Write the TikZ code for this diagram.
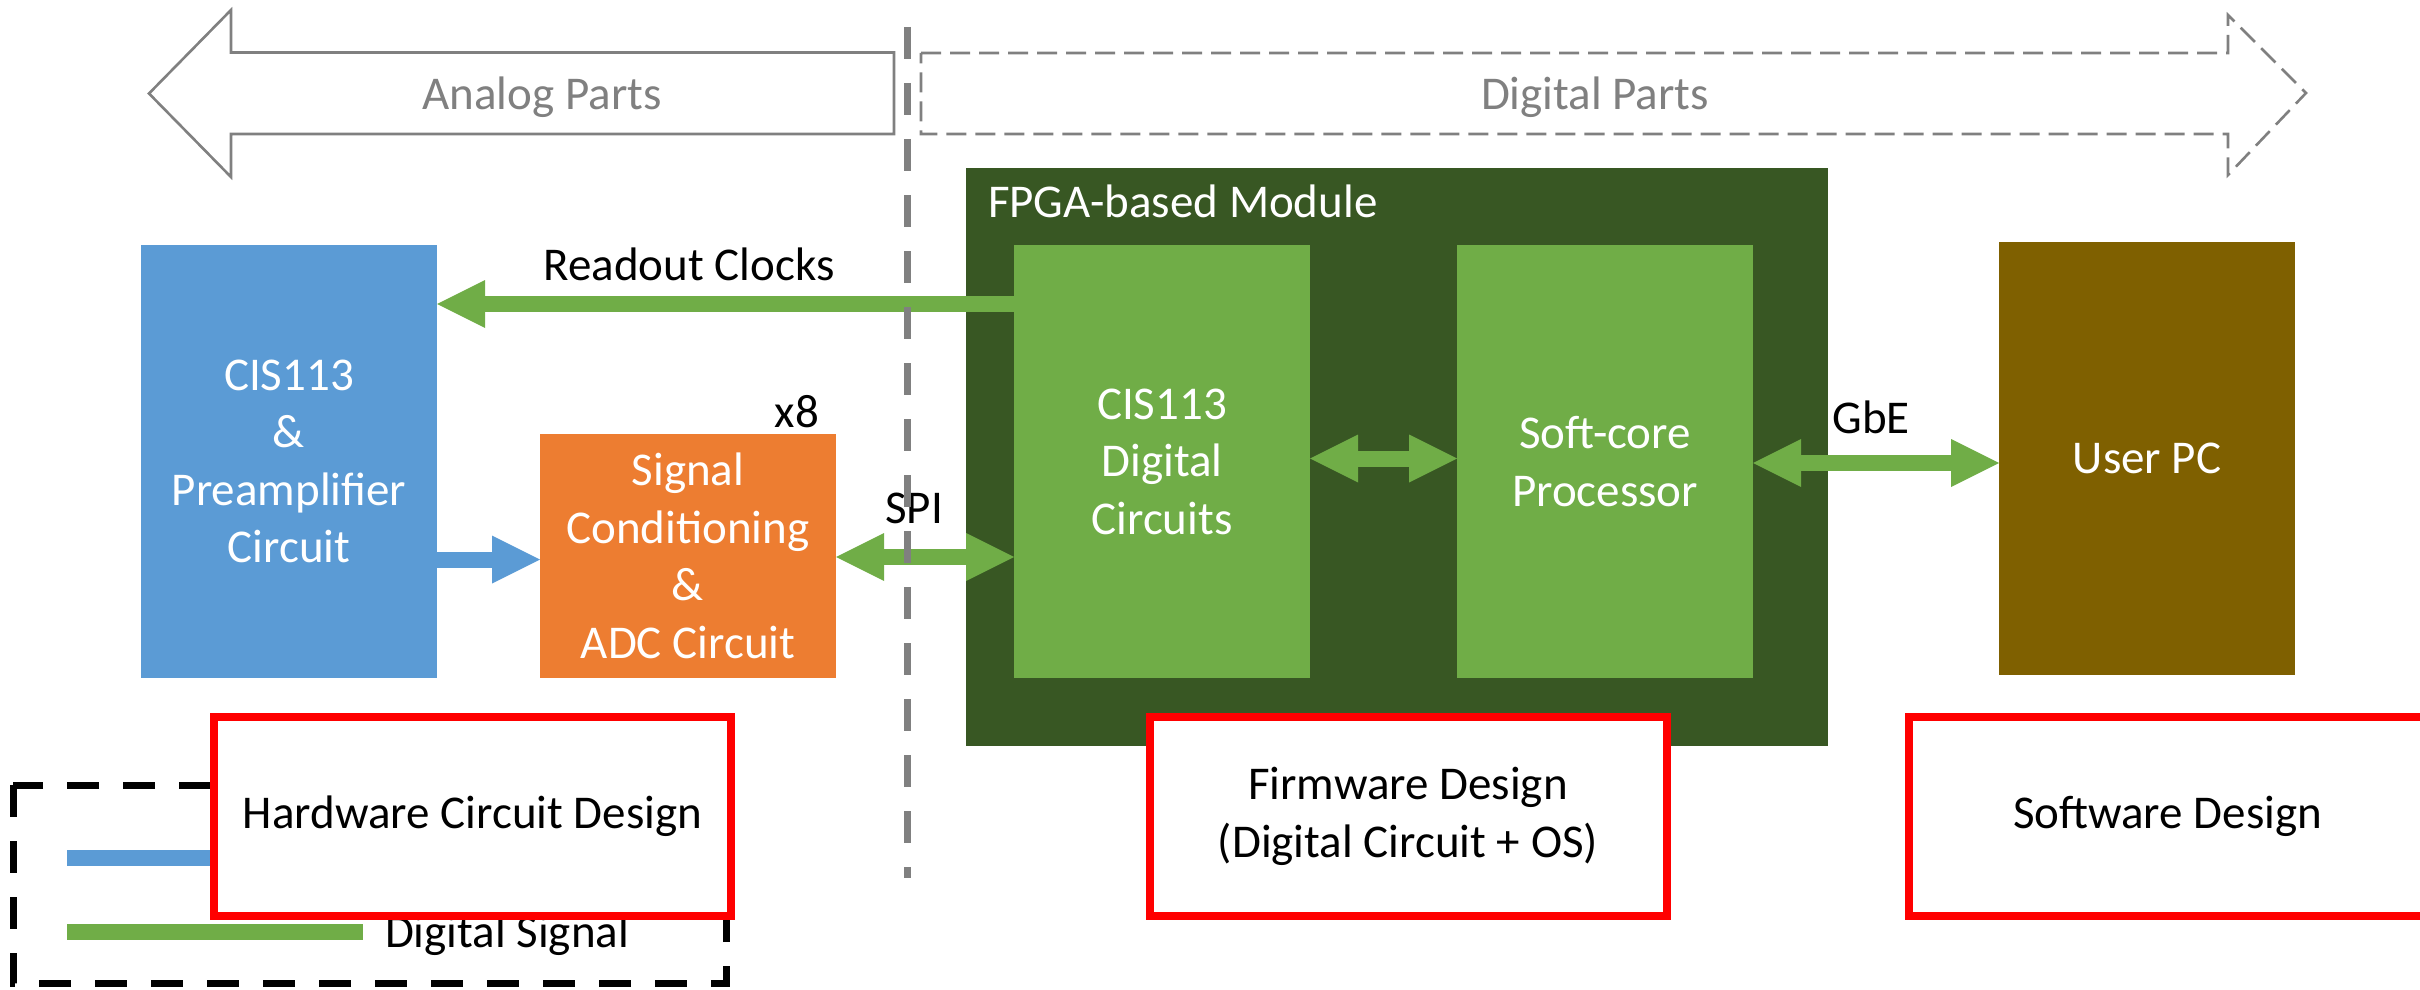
\documentclass[tikz,border=0pt]{standalone}
\usepackage{fontspec}
\setmainfont{Carlito}
\usetikzlibrary{arrows.meta}

\definecolor{analogblue}{HTML}{5B9BD5}
\definecolor{adcorange}{HTML}{ED7D31}
\definecolor{fpgadark}{HTML}{385723}
\definecolor{logicgreen}{HTML}{70AD47}
\definecolor{pcbrown}{HTML}{7F6000}
\definecolor{partgray}{HTML}{808080}

\tikzset{
  BlockTip/.tip={Triangle[length=24pt,width=24pt,line width=0pt]},
  txt/.style={font=\fontsize{23.5}{28.75}\selectfont, inner sep=0pt, outer sep=0pt},
  block/.style={txt, anchor=north west, minimum width=148pt, minimum height=216.5pt,
    text=white, align=center, fill=#1},
  design/.style={txt, draw=red, line width=4pt, fill=white, minimum width=258.5pt,
    minimum height=99.5pt, align=center},
  flow/.style={draw=#1, line width=8pt},
  partarrow/.style={draw=partgray, line width=1.3pt, fill=white, line join=miter}
}

\begin{document}
\begin{tikzpicture}[x=0.5pt,y=-0.5pt]
\useasboundingbox (0,0) rectangle (2420,990);
\clip (0,0) rectangle (2420,990);

% analog / digital direction arrows
\draw[partarrow] (149,93.5) -- (231,10) -- (231,52.5) -- (894,52.5) -- (894,134)
  -- (231,134) -- (231,177) -- cycle;
\draw[partarrow, dash pattern=on 10pt off 4.5pt] (921,53) -- (2228,53) -- (2228,15)
  -- (2306,93) -- (2228,175) -- (2228,134) -- (921,134) -- cycle;
\node[txt, text=partgray, anchor=base] (analogtxt) at (542,110) {Analog Parts};
\node[txt, text=partgray, anchor=base] (digitaltxt) at (1595,110) {Digital Parts};

% legend
\draw[black, line width=3.5pt, dash pattern=on 16pt off 12pt] (13,785) rectangle (726,983);
\coordinate (lgA) at (67,858);
\coordinate (lgB) at (67,932);
\draw[flow=analogblue] (lgA) -- ++(160,0);
\draw[flow=logicgreen] (lgB) -- ++(296,0);
\node[txt, anchor=base west] (lgtxt) at (385,947) {Digital Signal};

% FPGA module with its two blocks
\node[fill=fpgadark, anchor=north west, minimum width=431pt, minimum height=289pt,
  inner sep=0pt] (fpga) at (966,168) {};
\node[txt, text=white, anchor=base west] (fpgatxt) at (988,217) {FPGA-based Module};
\node[block=logicgreen] (dig) at (1014,245) {CIS113\\Digital\\Circuits};
\node[block=logicgreen] (soft) at (1457,245) {Soft-core\\Processor};

% hardware blocks
\node[block=analogblue] (cis) at (141,245) {CIS113\\\&\\Preamplifier\\Circuit};
\node[block=adcorange, minimum height=122pt] (adc) at (540,434)
  {Signal\\Conditioning\\\&\\ADC Circuit};
\node[block=pcbrown] (pc) at (1999,242) {User PC};
\node[txt, anchor=base] (times8) at (797,427) {x8};

% signal connections
\coordinate (yclk) at (0,304);
\coordinate (yana) at (0,559.5);
\coordinate (yspi) at (0,557);
\coordinate (ybus) at (0,458.5);
\coordinate (ygbe) at (0,463);
\draw[flow=logicgreen, -BlockTip] (dig.west |- yclk) -- (cis.east |- yclk);
\draw[flow=analogblue, -BlockTip] (cis.east |- yana) -- (adc.west |- yana);
\draw[flow=logicgreen, BlockTip-BlockTip] (adc.east |- yspi) -- (dig.west |- yspi);
\draw[flow=logicgreen, BlockTip-BlockTip] (dig.east |- ybus) -- (soft.west |- ybus);
\draw[flow=logicgreen, BlockTip-BlockTip] (soft.east |- ygbe) -- (pc.west |- ygbe);

\node[txt, anchor=base] (clktxt) at (689,280) {Readout Clocks};
\node[txt, anchor=base] (spitxt) at (914,523) {SPI};
\node[txt, anchor=base] (gbetxt) at (1871,433) {GbE};

% analog / digital boundary
\draw[partgray, line width=3.5pt, dash pattern=on 16pt off 12pt] (907,27) -- (907,878);

% design areas
\node[design] (hw) at (472.5,816.5) {Hardware Circuit Design};
\node[design] (fw) at (1408,816.5) {Firmware Design\\(Digital Circuit + OS)};
\node[design] (sw) at (2167.5,816.5) {Software Design};
\end{tikzpicture}
\end{document}
